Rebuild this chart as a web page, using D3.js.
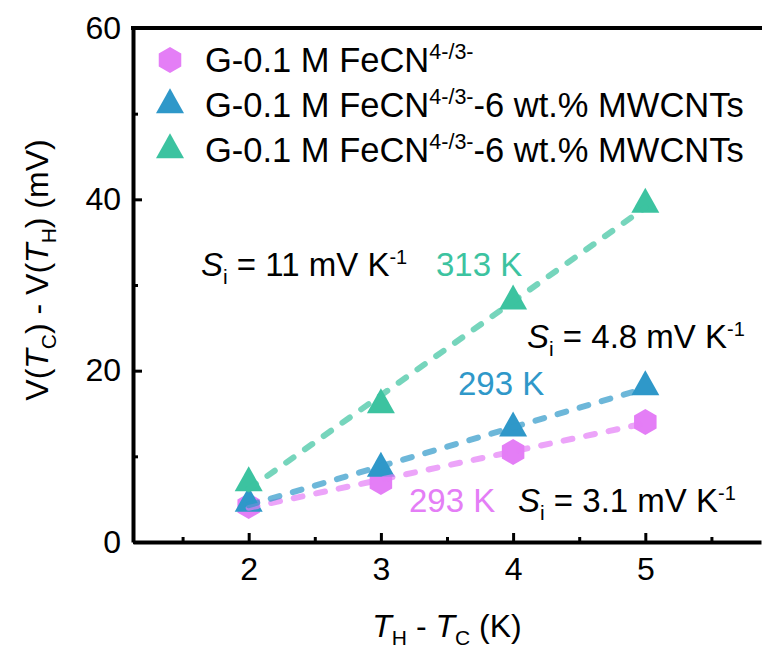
<!DOCTYPE html>
<html>
<head>
<meta charset="utf-8">
<script src="https://cdn.jsdelivr.net/npm/d3@7"></script>
<style>
  html, body { margin: 0; padding: 0; background: #fff; }
  svg { display: block; font-family: "Liberation Sans", Arial, sans-serif; }
</style>
</head>
<body>
<svg id="chart" width="762" height="650"></svg>
<script>
// Temperature difference (K)
const deltaT = [2, 3, 4, 5];
// Thermovoltage V(Tc) - V(Th) in mV for each sample
const pinkSeries  = [4.2, 7.0, 10.5, 14.0];   // G-0.1 M FeCN, 293 K
const blueSeries  = [4.5, 8.6, 13.3, 18.1];   // with 6 wt.% MWCNTs, 293 K
const greenSeries = [6.9, 16.0, 28.1, 39.4];  // with 6 wt.% MWCNTs, 313 K

const xTicks = [2, 3, 4, 5];
const xMinor = [1.5, 2.5, 3.5, 4.5, 5.5];
const yTicks = [0, 20, 40, 60];
const yMinor = [10, 30, 50];

const legendLabels = [
  { base: "G-0.1 M FeCN", sup: "4-/3-", tail: "" },
  { base: "G-0.1 M FeCN", sup: "4-/3-", tail: "-6 wt.% MWCNTs" },
  { base: "G-0.1 M FeCN", sup: "4-/3-", tail: "-6 wt.% MWCNTs" }
];

const colors = { pink: "#E47EF6", blue: "#2F98C9", green: "#3CC3A0" };

const svg = d3.select("#chart");
const x = d3.scaleLinear().domain([1.125, 5.875]).range([133, 761]);
const y = d3.scaleLinear().domain([0, 60]).range([542, 28]);

// marker shapes
function hexPath(cx, cy, r) {
  const pts = d3.range(6).map(i => {
    const a = Math.PI / 3 * i - Math.PI / 2;
    return [cx + r * Math.cos(a), cy + r * Math.sin(a)];
  });
  return "M" + pts.map(p => p.join(",")).join("L") + "Z";
}
function triPath(cx, cy, w, h) {
  // centred on the centroid
  return `M${cx},${cy - 2 * h / 3}L${cx + w / 2},${cy + h / 3}L${cx - w / 2},${cy + h / 3}Z`;
}

const series = [
  { values: pinkSeries, color: colors.pink, shape: "hex" },
  { values: blueSeries, color: colors.blue, shape: "tri" },
  { values: greenSeries, color: colors.green, shape: "tri" }
];

function drawMarker(g, shape, cx, cy, color) {
  g.append("path")
    .attr("d", shape === "hex" ? hexPath(cx, cy, 13) : triPath(cx, cy, 28, 25))
    .attr("fill", color);
}

// least-squares line through each series
function fit(xs, ys) {
  const mx = d3.mean(xs), my = d3.mean(ys);
  const b = d3.sum(xs, (v, i) => (v - mx) * (ys[i] - my)) / d3.sum(xs, v => (v - mx) ** 2);
  return { b, a: my - b * mx };
}

// axes
const axisStyle = g => {
  g.select(".domain").attr("stroke", "#000").attr("stroke-width", 4);
  g.selectAll(".tick line").attr("stroke", "#000").attr("stroke-width", 3);
  g.selectAll(".tick text").attr("fill", "#000").style("font-size", "32px")
    .style("font-family", "'Liberation Sans', Arial, sans-serif");
};

svg.append("g").attr("transform", "translate(0,542)")
  .call(d3.axisBottom(x).tickValues(xTicks).tickFormat(d3.format("d"))
    .tickSize(-9).tickSizeOuter(0).tickPadding(15))
  .call(axisStyle);
svg.append("g").attr("transform", "translate(0,542)")
  .call(d3.axisBottom(x).tickValues(xMinor).tickSize(-5).tickSizeOuter(0).tickFormat(""))
  .call(axisStyle).select(".domain").remove();

svg.append("g").attr("transform", "translate(133,0)")
  .call(d3.axisLeft(y).tickValues(yTicks).tickFormat(d3.format("d"))
    .tickSize(-9).tickSizeOuter(0).tickPadding(12))
  .call(axisStyle);
svg.append("g").attr("transform", "translate(133,0)")
  .call(d3.axisLeft(y).tickValues(yMinor).tickSize(-5).tickSizeOuter(0).tickFormat(""))
  .call(axisStyle).select(".domain").remove();

// top frame line
svg.append("line")
  .attr("x1", x.range()[0] - 2).attr("x2", 762)
  .attr("y1", y(60)).attr("y2", y(60))
  .attr("stroke", "#000").attr("stroke-width", 4);

// markers
const markers = svg.append("g");
series.forEach(s => {
  s.values.forEach((v, i) => drawMarker(markers, s.shape, x(deltaT[i]), y(v), s.color));
});

// dashed fit lines drawn over the markers
const lines = svg.append("g");
series.forEach(s => {
  const f = fit(deltaT, s.values);
  const x0 = deltaT[0], x1 = deltaT[deltaT.length - 1];
  lines.append("line")
    .attr("x1", x(x0)).attr("y1", y(f.a + f.b * x0))
    .attr("x2", x(x1)).attr("y2", y(f.a + f.b * x1))
    .attr("stroke", s.color).attr("stroke-opacity", 0.7)
    .attr("stroke-width", 6).attr("stroke-linecap", "round")
    .attr("stroke-dasharray", "9,14");
});

// legend
const legend = svg.append("g");
legendLabels.forEach((lab, i) => {
  const cy = 60 + i * 45;
  drawMarker(legend, series[i].shape, 170, cy, series[i].color);
  const t = legend.append("text").attr("x", 205).attr("y", cy + 12)
    .style("font-size", "34.5px").attr("fill", "#000");
  t.append("tspan").text(lab.base);
  t.append("tspan").attr("dy", -13).style("font-size", "21.5px").text(lab.sup);
  if (lab.tail) t.append("tspan").attr("dy", 13).text(lab.tail);
});

// slope annotations
function seebeck(xPos, yPos, value) {
  const t = svg.append("text").attr("x", xPos).attr("y", yPos)
    .style("font-size", "33px").attr("fill", "#000");
  t.append("tspan").style("font-style", "italic").text("S");
  t.append("tspan").attr("dy", 8).style("font-size", "21px").text("i");
  t.append("tspan").attr("dy", -8).text(" = " + value + " mV K");
  t.append("tspan").attr("dy", -12).style("font-size", "20px").text("-1");
}
function tempLabel(xPos, yPos, txt, color) {
  svg.append("text").attr("x", xPos).attr("y", yPos)
    .style("font-size", "33px").attr("fill", color).text(txt);
}

seebeck(201, 276, "11");
tempLabel(436, 276, "313 K", colors.green);
seebeck(527, 348, "4.8");
tempLabel(458, 395, "293 K", colors.blue);
tempLabel(409, 512, "293 K", colors.pink);
seebeck(518, 512, "3.1");

// axis titles
const xt = svg.append("text").attr("x", 447).attr("y", 637)
  .attr("text-anchor", "middle").style("font-size", "32px").attr("fill", "#000");
xt.append("tspan").style("font-style", "italic").text("T");
xt.append("tspan").attr("dy", 8).style("font-size", "21px").text("H");
xt.append("tspan").attr("dy", -8).text(" - ");
xt.append("tspan").style("font-style", "italic").text("T");
xt.append("tspan").attr("dy", 8).style("font-size", "21px").text("C");
xt.append("tspan").attr("dy", -8).text(" (K)");

const yt = svg.append("text")
  .attr("transform", "translate(48,270) rotate(-90)")
  .attr("text-anchor", "middle").style("font-size", "32px").attr("fill", "#000");
yt.append("tspan").text("V(");
yt.append("tspan").style("font-style", "italic").text("T");
yt.append("tspan").attr("dy", 8).style("font-size", "21px").text("C");
yt.append("tspan").attr("dy", -8).text(") - V(");
yt.append("tspan").style("font-style", "italic").text("T");
yt.append("tspan").attr("dy", 8).style("font-size", "21px").text("H");
yt.append("tspan").attr("dy", -8).text(") (mV)");
</script>
</body>
</html>
